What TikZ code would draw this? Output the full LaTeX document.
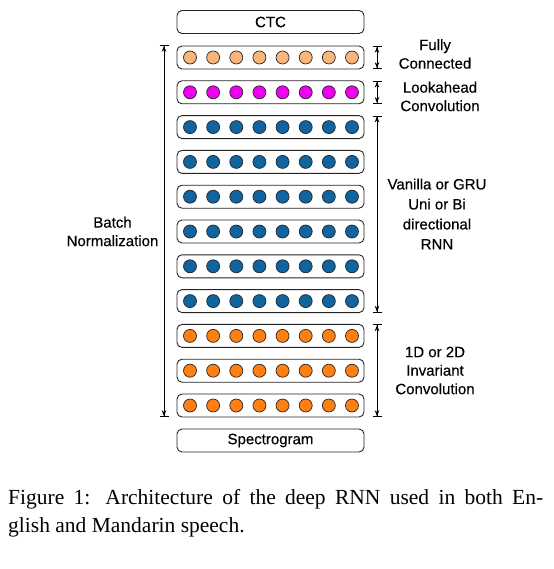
\documentclass[tikz,border=0pt]{standalone}
\usepackage{fontspec}
\setmainfont{Liberation Serif}
\newfontfamily\lsans[FakeBold=0.3]{Liberation Sans}
\usetikzlibrary{arrows.meta}
\definecolor{fcc}{RGB}{250,182,122}
\definecolor{lac}{RGB}{240,0,240}
\definecolor{rnc}{RGB}{16,100,160}
\definecolor{cvc}{RGB}{255,128,16}
\begin{document}
\begin{tikzpicture}[x=1bp,y=-1bp,
  layerbox/.style={draw=black!85, line width=0.9bp, rounded corners=5bp, minimum width=187bp, minimum height=23bp, inner sep=0pt, font=\lsans\fontsize{15bp}{18bp}\selectfont},
  unit/.style={circle, draw=black!85, line width=0.7bp, minimum size=13bp, inner sep=0pt, fill=#1},
  lbl/.style={align=center, font=\lsans\fontsize{15bp}{18.5bp}\selectfont, inner sep=0pt},
  spanarrow/.style={line width=0.8bp, {Bar[width=9bp]Stealth[length=6bp,width=4.5bp]}-{Stealth[length=6bp,width=4.5bp]Bar[width=9bp]}},
  capt/.style={anchor=base west, inner sep=0pt, font=\fontsize{21.5bp}{28bp}\selectfont}
]
\fill[white] (0,0) rectangle (554,569);
\useasboundingbox (0,0) rectangle (554,569);

\node[layerbox] (ctc) at (270.5,22) {CTC};
\node[layerbox] (spec) at (270.5,440.5) {Spectrogram};

\foreach \i/\c in {0/fcc,1/lac,2/rnc,3/rnc,4/rnc,5/rnc,6/rnc,7/rnc,8/cvc,9/cvc,10/cvc}{
  \node[layerbox] (r\i) at (270.5,{57.5+34.8*\i}) {};
  \foreach \j in {0,...,7}{
    \node[unit=\c] (r\i c\j) at ({190+23.14*\j},{57.5+34.8*\i}) {};
  }
}

% left arrow
\coordinate (bnT) at (164,45);
\coordinate (bnB) at (164,417);
\draw[spanarrow] (bnT) -- (bnB);
\node[lbl] (bn) at (112.5,231.5) {Batch\\Normalization};

% right arrows
\coordinate (fcT) at (377,46);   \coordinate (fcB) at (377,69);
\coordinate (laT) at (377,80.8); \coordinate (laB) at (377,103.8);
\coordinate (rnT) at (377,115.6);\coordinate (rnB) at (377,312.6);
\coordinate (cvT) at (377,324.4);\coordinate (cvB) at (377,417);
\draw[spanarrow] (fcT) -- (fcB);
\draw[spanarrow] (laT) -- (laB);
\draw[spanarrow] (rnT) -- (rnB);
\draw[spanarrow] (cvT) -- (cvB);

\node[lbl] (fcl) at (435,54) {Fully\\Connected};
\node[lbl] (lal) at (440,96.5) {Lookahead\\Convolution};
\node[lbl, font=\lsans\fontsize{15bp}{20bp}\selectfont] (rnl) at (437,214) {Vanilla or GRU\\Uni or Bi\\directional\\RNN};
\node[lbl] (cvl) at (435,370.5) {1D or 2D\\Invariant\\Convolution};

\node[capt] (cap1) at (8,504) {\makebox[535bp][s]{Figure 1: Architecture of the deep RNN used in both En-}};
\node[capt] (cap2) at (8,532.5) {glish and Mandarin speech.};
\end{tikzpicture}
\end{document}
